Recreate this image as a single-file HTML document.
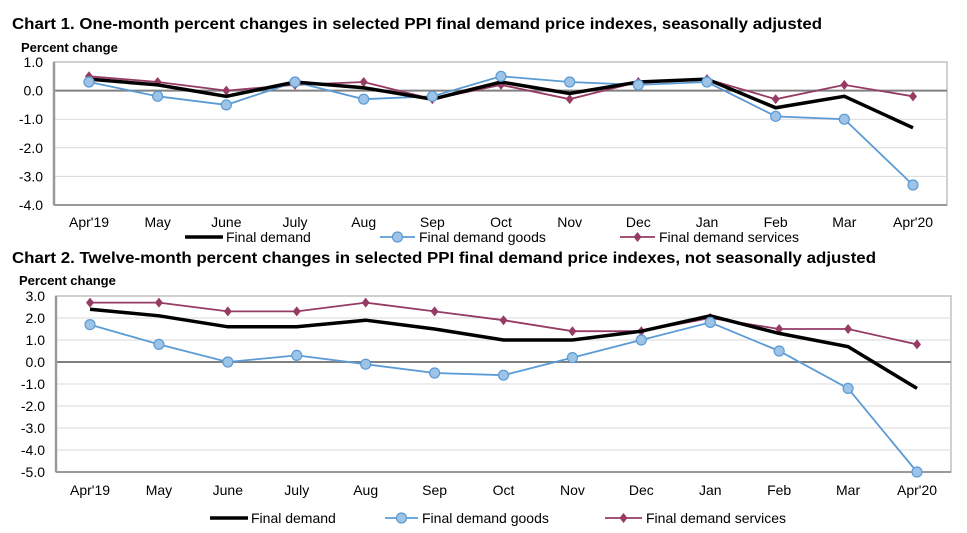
<!DOCTYPE html>
<html><head><meta charset="utf-8"><style>
html,body{margin:0;padding:0;background:#fff;}
svg{display:block;font-family:"Liberation Sans",Arial,sans-serif;}
</style></head><body>
<svg id="c" width="967" height="533" viewBox="0 0 967 533" xmlns="http://www.w3.org/2000/svg">
<text x="12" y="29" font-size="16" font-weight="bold" fill="#000" textLength="810" lengthAdjust="spacingAndGlyphs">Chart 1. One-month percent changes in selected PPI final demand price indexes, seasonally adjusted</text>
<text x="21" y="52" font-size="13" font-weight="bold" fill="#000">Percent change</text>
<text x="12" y="263" font-size="16" font-weight="bold" fill="#000" textLength="864" lengthAdjust="spacingAndGlyphs">Chart 2. Twelve-month percent changes in selected PPI final demand price indexes, not seasonally adjusted</text>
<text x="19" y="285" font-size="13" font-weight="bold" fill="#000">Percent change</text>
</svg>
<script>
const months = ["Apr'19","May","June","July","Aug","Sep","Oct","Nov","Dec","Jan","Feb","Mar","Apr'20"];
const c1Ticks = [1,0,-1,-2,-3,-4];
const c1Demand = [0.4,0.2,-0.2,0.3,0.1,-0.3,0.3,-0.1,0.3,0.4,-0.6,-0.2,-1.3];
const c1Goods = [0.3,-0.2,-0.5,0.3,-0.3,-0.2,0.5,0.3,0.2,0.3,-0.9,-1.0,-3.3];
const c1Services = [0.5,0.3,0.0,0.2,0.3,-0.3,0.2,-0.3,0.3,0.4,-0.3,0.2,-0.2];
const c2Ticks = [3,2,1,0,-1,-2,-3,-4,-5];
const c2Demand = [2.4,2.1,1.6,1.6,1.9,1.5,1.0,1.0,1.4,2.1,1.3,0.7,-1.2];
const c2Goods = [1.7,0.8,0.0,0.3,-0.1,-0.5,-0.6,0.2,1.0,1.8,0.5,-1.2,-5.0];
const c2Services = [2.7,2.7,2.3,2.3,2.7,2.3,1.9,1.4,1.4,2.0,1.5,1.5,0.8];
const seriesNames = ["Final demand","Final demand goods","Final demand services"];

const NS="http://www.w3.org/2000/svg";
const svg=document.getElementById('c');
function mk(tag,attrs,parent){const e=document.createElementNS(NS,tag);for(const k in attrs)e.setAttribute(k,attrs[k]);(parent||svg).appendChild(e);return e;}

function chart(id,cfg,ticks,demand,goods,services){
  const g=mk('g',{});
  
  
  const ymax=ticks[0], ymin=ticks[ticks.length-1];
  const y=v=>cfg.top+(ymax-v)/(ymax-ymin)*(cfg.bottom-cfg.top);
  const x=i=>cfg.x0+i*(cfg.x1-cfg.x0)/(months.length-1);
  mk('rect',{x:cfg.left,y:cfg.top,width:cfg.right-cfg.left,height:cfg.bottom-cfg.top,fill:'#fff',stroke:'#c0c0c0','stroke-width':1.5},g);
  ticks.forEach(t=>{
    if(t!==0&&t!==ymax&&t!==ymin){const l=mk('line',{x1:cfg.left,x2:cfg.right,y1:y(t),y2:y(t),stroke:'#d9d9d9','stroke-width':1},g);
    
    }
    const tx=mk('text',{x:cfg.left-11,y:y(t)+5,'font-size':14,'text-anchor':'end',fill:'#000'},g);
    tx.textContent=t.toFixed(1);
    
    
  });
  const z=mk('line',{x1:cfg.left,x2:cfg.right,y1:y(0),y2:y(0),stroke:'#808080','stroke-width':2},g);
  
  
  mk('line',{x1:cfg.left,x2:cfg.left,y1:cfg.top,y2:cfg.bottom,stroke:'#999','stroke-width':2.5},g);
  mk('line',{x1:cfg.left,x2:cfg.right,y1:cfg.bottom,y2:cfg.bottom,stroke:'#999','stroke-width':2},g);
  months.forEach((m,i)=>{
    const tx=mk('text',{x:x(i),y:cfg.xlab,'font-size':14,'text-anchor':'middle',fill:'#000'},g);
    tx.textContent=m;
    
    
  });
  const pts=a=>a.map((v,i)=>x(i)+','+y(v)).join(' ');
  const ls=mk('polyline',{points:pts(services),fill:'none',stroke:'#953b64','stroke-width':1.8},g);
  
  
  services.forEach((v,i)=>{const d=mk('path',{d:`M${x(i)},${y(v)-5}L${x(i)+4},${y(v)}L${x(i)},${y(v)+5}L${x(i)-4},${y(v)}Z`,fill:'#953b64'},g);
    
    });
  const lg=mk('polyline',{points:pts(goods),fill:'none',stroke:'#5b9bd5','stroke-width':1.8},g);
  
  
  const ld=mk('polyline',{points:pts(demand),fill:'none',stroke:'#000','stroke-width':3.5},g);
  
  
  goods.forEach((v,i)=>{const p=mk('circle',{cx:x(i),cy:y(v),r:5,fill:'#9dc3e6',stroke:'#5b9bd5','stroke-width':1.2},g);
    
    });
  const L=cfg.leg, ly=L.y;
  const e1=mk('g',{},g);
  
  
  mk('line',{x1:L.a[0],x2:L.a[1],y1:ly,y2:ly,stroke:'#000','stroke-width':3.5},e1);
  let t=mk('text',{x:L.a[1]+3,y:ly+5,'font-size':14,fill:'#000'},e1);t.textContent=seriesNames[0];
  const e2=mk('g',{},g);
  
  
  mk('line',{x1:L.b[0],x2:L.b[1],y1:ly,y2:ly,stroke:'#5b9bd5','stroke-width':1.8},e2);
  mk('circle',{cx:(L.b[0]+L.b[1])/2,cy:ly,r:5,fill:'#9dc3e6',stroke:'#5b9bd5','stroke-width':1.2},e2);
  t=mk('text',{x:L.b[1]+4,y:ly+5,'font-size':14,fill:'#000'},e2);t.textContent=seriesNames[1];
  const e3=mk('g',{},g);
  
  
  mk('line',{x1:L.c[0],x2:L.c[1],y1:ly,y2:ly,stroke:'#953b64','stroke-width':1.8},e3);
  const cx=(L.c[0]+L.c[1])/2;
  mk('path',{d:`M${cx},${ly-5}L${cx+4},${ly}L${cx},${ly+5}L${cx-4},${ly}Z`,fill:'#953b64'},e3);
  t=mk('text',{x:L.c[1]+4,y:ly+5,'font-size':14,fill:'#000'},e3);t.textContent=seriesNames[2];
}
chart('chart1',{left:54,right:947,top:62,bottom:205,x0:89,x1:913,xlab:227,leg:{y:237,a:[185,223],b:[380,415],c:[620,655]}},c1Ticks,c1Demand,c1Goods,c1Services);
chart('chart2',{left:56,right:951,top:296,bottom:472,x0:90,x1:917,xlab:495,leg:{y:518,a:[210,248],b:[385,418],c:[605,642]}},c2Ticks,c2Demand,c2Goods,c2Services);
</script>
</body></html>
